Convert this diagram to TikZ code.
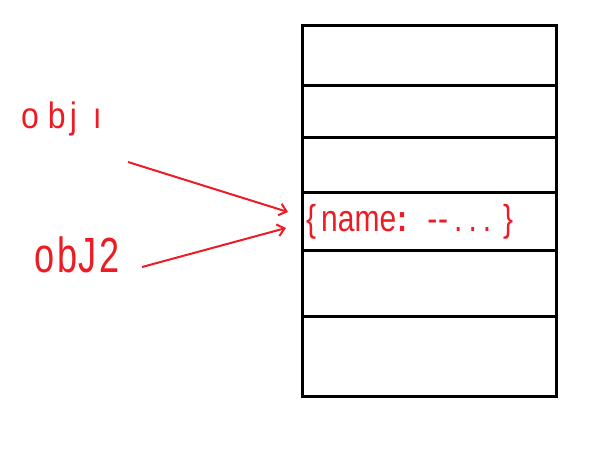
\documentclass[tikz,border=0pt]{standalone}
\usepackage{fontspec}
\usepackage{graphicx}
\setmainfont{Liberation Sans}
\usetikzlibrary{arrows.meta}
\definecolor{pred}{RGB}{237,28,36}
\begin{document}
\begin{tikzpicture}[x=1pt,y=-1pt,
  cell/.style={draw=black,line width=3pt,minimum width=254pt,inner sep=0pt,anchor=north west},
  hand/.style={text=pred,inner sep=0pt,anchor=base west},
  ptr/.style={draw=pred,line width=2pt,-{Straight Barb[length=7pt,width=12pt,line width=2pt]}}]
\useasboundingbox (0,0) rectangle (615,451);
\node[cell,minimum height=59.5pt] (r1) at (300.5,24) {};
\node[cell,minimum height=52.5pt] (r2) at (300.5,83.5) {};
\node[cell,minimum height=54.7pt] (r3) at (300.5,136) {};
\node[cell,minimum height=58.3pt] (r4) at (300.5,190.7) {};
\node[cell,minimum height=66.3pt] (r5) at (300.5,249) {};
\node[cell,minimum height=79.7pt] (r6) at (300.5,315.3) {};
\node[hand,font=\fontsize{32}{32}\selectfont] (o1) at (21,128) {\scalebox{1}[1.15]{o\hspace{9pt}b\hspace{4pt}j\hspace{16pt}ı}};
\node[hand,font=\fontsize{38}{38}\selectfont] (o2) at (34,272) {\scalebox{0.95}[1.3]{o\hspace{3pt}b\hspace{1pt}J\hspace{3pt}2}};
\node[hand,font=\fontsize{30}{30}\selectfont] (t) at (306,231) {\scalebox{1}[1.25]{\{\hspace{5pt}name\hspace{1pt}\textbf{:}\hspace{20pt}-\hspace{1pt}-\hspace{6pt}.\hspace{6pt}.\hspace{6pt}.\hspace{12pt}\}}};
\coordinate (s1) at (128,162);
\coordinate (s2) at (142,267);
\coordinate (e1) at (288,212);
\coordinate (e2) at (286,228);
\draw[ptr] (s1) -- (e1);
\draw[ptr] (s2) -- (e2);
\end{tikzpicture}
\end{document}
